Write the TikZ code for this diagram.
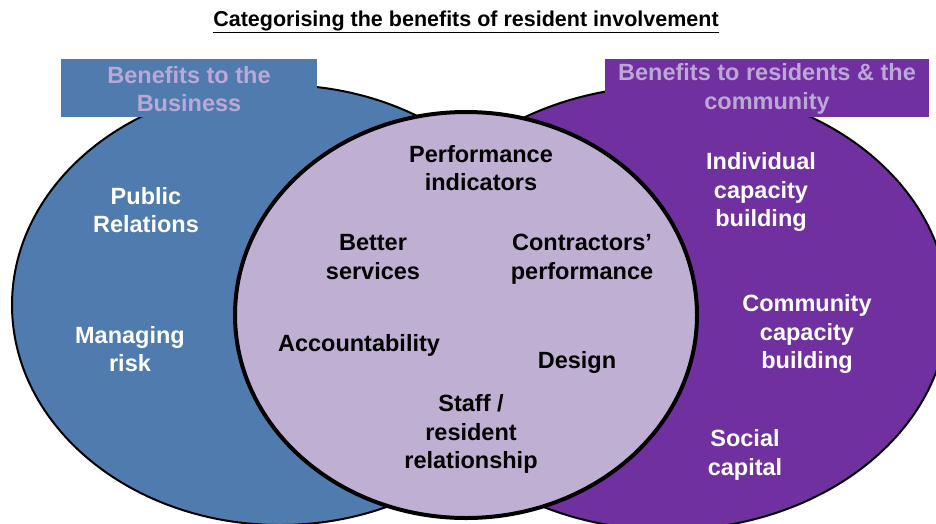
\documentclass[tikz,border=0pt]{standalone}
\usepackage{fontspec}
\setmainfont{Liberation Sans}
\usetikzlibrary{shapes.geometric}
\definecolor{bizblue}{RGB}{80,123,175}
\definecolor{respurple}{RGB}{112,48,160}
\definecolor{midlilac}{RGB}{191,176,211}
\definecolor{headlilac}{RGB}{187,168,212}
\tikzset{
  venn/.style={ellipse, inner sep=0pt, draw=black},
  lbl/.style={align=center, inner sep=0pt, font=\bfseries\fontsize{23.5}{28.5}\selectfont},
  whitelbl/.style={lbl, text=white},
  blacklbl/.style={lbl, text=black},
  headbox/.style={inner sep=0pt, draw=none},
  headtxt/.style={lbl, text=headlilac},
}
\begin{document}
\begin{tikzpicture}[x=1pt,y=-1pt]
\useasboundingbox (0,0) rectangle (936,523);
% ellipses
\node[venn, line width=2pt, fill=bizblue, minimum width=536pt, minimum height=440pt] (biz) at (280,305) {};
\node[venn, line width=2pt, fill=respurple, minimum width=560pt, minimum height=444pt] (res) at (668,308) {};
\node[venn, line width=4pt, fill=midlilac, minimum width=462pt, minimum height=406pt] (mid) at (466,315) {};
% header boxes
\node[headbox, fill=bizblue, minimum width=256pt, minimum height=58pt] (bizbox) at (189,88) {};
\node[headbox, fill=respurple, minimum width=324pt, minimum height=58pt] (resbox) at (767,88) {};
\node[headtxt] (bizhead) at (189,89) {Benefits to the\\Business};
\node[headtxt] (reshead) at (767,89) {Benefits to residents \& the\\community};
% title
\node[inner sep=0pt, font=\bfseries\fontsize{21.5}{25}\selectfont] (title) at (466,22) {\underline{Categorising the benefits of resident involvement}};
% left labels
\node[whitelbl] (pr) at (146,210) {Public\\Relations};
\node[whitelbl] (risk) at (130,349) {Managing\\risk};
% middle labels
\node[blacklbl] (perf) at (481,168) {Performance\\indicators};
\node[blacklbl] (better) at (373,257) {Better\\services};
\node[blacklbl] (contr) at (582,259) {Contractors’\\performance};
\node[blacklbl] (acc) at (359,345) {Accountability};
\node[blacklbl] (design) at (577,362) {Design};
\node[blacklbl] (staff) at (471,434) {Staff /\\resident\\relationship};
% right labels
\node[whitelbl] (indiv) at (761,192) {Individual\\capacity\\building};
\node[whitelbl] (comm) at (807,334) {Community\\capacity\\building};
\node[whitelbl] (social) at (745,455) {Social\\capital};
\end{tikzpicture}
\end{document}
